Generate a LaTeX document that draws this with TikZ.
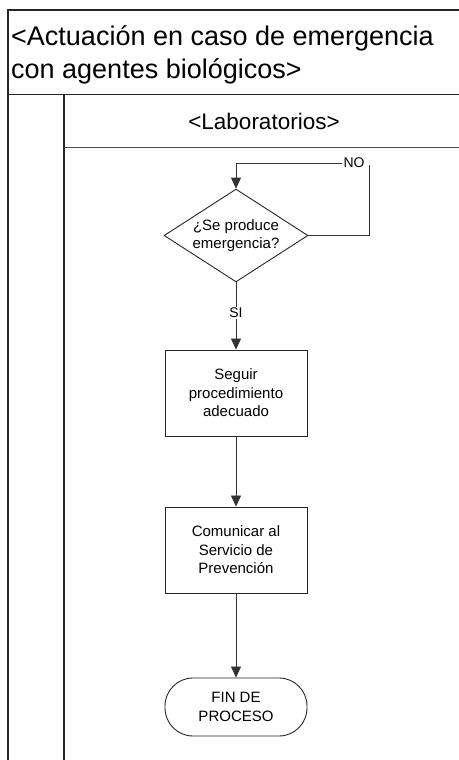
\documentclass[tikz,border=0pt]{standalone}
\usepackage{fontspec}
\setmainfont{Liberation Sans}
\usetikzlibrary{arrows.meta,shapes.geometric}
\begin{document}
\begin{tikzpicture}[x=1pt,y=-1pt,
  frameline/.style={line width=1.6pt,draw=black!85},
  thinline/.style={line width=0.9pt,draw=black!70},
  conn/.style={line width=0.8pt,draw=black!80},
  arr/.style={conn,-{Triangle[length=11pt,width=10pt]}},
  procbox/.style={draw=black!85,line width=0.9pt,minimum width=142pt,minimum height=86pt,inner sep=0pt,align=center,font=\fontsize{15}{18.5}\selectfont},
  decision/.style={diamond,draw=black!85,line width=0.9pt,aspect=1.55,inner sep=1.5pt,align=center,font=\fontsize{15}{18}\selectfont},
  terminal/.style={draw=black!85,line width=0.9pt,minimum width=142pt,minimum height=58pt,rounded corners=28pt,inner sep=0pt,align=center,font=\fontsize{15}{18.5}\selectfont},
  lbl/.style={fill=white,inner sep=1pt,font=\fontsize{14}{16}\selectfont}]
\useasboundingbox (0,0) rectangle (458,760);
\fill[white] (0,0) rectangle (458,760);
% frame
\draw[frameline] (470,10) -- (8,10) -- (8,770);
\draw[frameline] (8,94.5) -- (470,94.5);
\draw[frameline] (64,94.5) -- (64,770);
\draw[thinline] (64,147) -- (470,147);
\node[anchor=base west,inner sep=0pt,align=left,font=\fontsize{27}{33}\selectfont] (title) at (11,78)
  {<Actuación en caso de emergencia\\con agentes biológicos>};
\node[inner sep=0pt,font=\fontsize{22.5}{26}\selectfont] (lane) at (264,121) {<Laboratorios>};
% flow
\node[decision] (d) at (236,235.5) {¿Se produce\\emergencia?};
\node[procbox] (b1) at (236,393) {Seguir\\procedimiento\\adecuado};
\node[procbox] (b2) at (236,550) {Comunicar al\\Servicio de\\Prevención};
\node[terminal] (fin) at (236,707) {FIN DE\\PROCESO};
\node[lbl] (no) at (354,163) {NO};
\node[lbl] (si) at (236,313) {SI};
\coordinate (cr) at (369,165);
\draw[conn] (d.east) -| (cr);
\draw[arr] (no.west) -| (d.north);
\draw[conn] (d.south) -- (si.north);
\draw[arr] (si.south) -- (b1.north);
\draw[arr] (b1.south) -- (b2.north);
\draw[arr] (b2.south) -- (fin.north);
\end{tikzpicture}
\end{document}
